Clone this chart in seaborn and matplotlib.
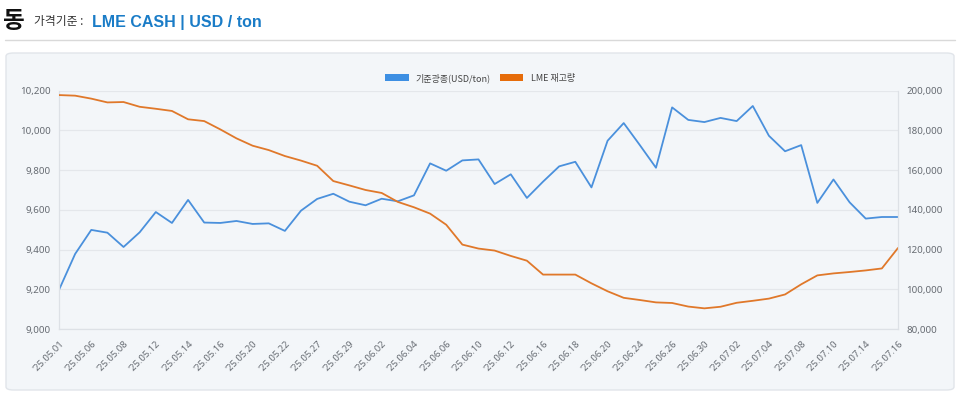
import matplotlib
matplotlib.use("Agg")
import matplotlib.pyplot as plt
from matplotlib.patches import FancyBboxPatch, Patch
from matplotlib.lines import Line2D
import matplotlib.ticker as mticker
import seaborn as sns
import pandas as pd

# trading days shown on the chart ('25.MM.DD)
dates = [
    "05.01", "05.02", "05.06", "05.07", "05.08", "05.09", "05.12", "05.13", "05.14", "05.15",
    "05.16", "05.19", "05.20", "05.21", "05.22", "05.23", "05.27", "05.28", "05.29", "05.30",
    "06.02", "06.03", "06.04", "06.05", "06.06", "06.09", "06.10", "06.11", "06.12", "06.13",
    "06.16", "06.17", "06.18", "06.19", "06.20", "06.23", "06.24", "06.25", "06.26", "06.27",
    "06.30", "07.01", "07.02", "07.03", "07.04", "07.07", "07.08", "07.09", "07.10", "07.11",
    "07.14", "07.15", "07.16",
]

# copper cash price (USD/ton), left axis
price = [
    9197, 9378, 9499, 9485, 9413, 9487, 9589, 9534, 9650, 9536,
    9534, 9544, 9529, 9532, 9494, 9596, 9655, 9681, 9641, 9623,
    9656, 9643, 9673, 9834, 9797, 9849, 9854, 9730, 9779, 9660,
    9742, 9819, 9842, 9713, 9948, 10037, 9926, 9812, 10116, 10053,
    10042, 10063, 10047, 10123, 9973, 9895, 9926, 9635, 9753, 9638,
    9556, 9564, 9564,
]

# LME stock (ton), right axis
stock = [
    197800, 197500, 196000, 194100, 194300, 191900, 190900, 189800, 185600, 184700,
    180500, 176000, 172300, 170100, 167100, 164800, 162200, 154500, 152300, 150000,
    148500, 144000, 141300, 138100, 132500, 122500, 120500, 119500, 116800, 114400,
    107400, 107400, 107400, 103000, 99000, 95700, 94600, 93400, 93100, 91300,
    90400, 91200, 93200, 94200, 95300, 97400, 102500, 107000, 108000, 108700,
    109500, 110500, 120800,
]

series_names = ["기준광종(USD/ton)", "LME 재고량"]

BLUE = "#4a90dc"
ORANGE = "#e0782a"
GRID = "#e4e7eb"
TICK = "#666b72"
FONTS = ["Noto Sans CJK KR", "DejaVu Sans"]
TICK_FONTS = ["Noto Sans", "DejaVu Sans"]

sns.set_theme(style="white")
plt.rcParams["font.family"] = FONTS

df = pd.DataFrame({"pos": range(len(dates)), "price": price, "stock": stock})

W, H = 960, 393
fig = plt.figure(figsize=(W / 100, H / 100), dpi=100, facecolor="white")

def fx(x):
    return x / W

def fy(y):
    return 1 - y / H

# header
fig.text(fx(3), fy(21), "동", fontsize=17, fontweight="bold", color="#111111", va="center")
fig.text(fx(34), fy(22), "가격기준 :", fontsize=8.5, color="#333333", va="center")
fig.text(fx(92), fy(22), "LME CASH | USD / ton", fontsize=11.5, fontweight="bold",
         color="#1a7cc7", va="center", family=["Liberation Sans", "DejaVu Sans"])
fig.add_artist(Line2D([fx(5), fx(955)], [fy(40), fy(40)], color="#d9d9d9", lw=1))

# panel
fig.add_artist(FancyBboxPatch((fx(6), fy(390)), fx(948), (390 - 53) / H,
                              boxstyle="round,pad=0,rounding_size=0.008",
                              facecolor="#f3f6f9", edgecolor="#e1e5ea", lw=1,
                              transform=fig.transFigure, zorder=0))

ax = fig.add_axes([fx(59), fy(329), fx(898 - 59), (329 - 90.7) / H])
ax.set_facecolor("none")
ax2 = ax.twinx()

sns.lineplot(data=df, x="pos", y="price", color=BLUE, lw=1.3, ax=ax, legend=False)
sns.lineplot(data=df, x="pos", y="stock", color=ORANGE, lw=1.3, ax=ax2, legend=False)

ax.set_xlim(0, len(dates) - 1)
ax.set_ylim(9000, 10200)
ax2.set_ylim(80000, 200000)
ax.yaxis.set_major_locator(mticker.MultipleLocator(200))
ax2.yaxis.set_major_locator(mticker.MultipleLocator(20000))
fmt = mticker.FuncFormatter(lambda v, p: f"{int(v):,}")
ax.yaxis.set_major_formatter(fmt)
ax2.yaxis.set_major_formatter(fmt)

ax.grid(axis="y", color=GRID, lw=0.9)
ax.set_axisbelow(True)

ticks = list(range(0, len(dates), 2))
ax.set_xticks(ticks)
ax.set_xticklabels(["'25." + dates[i] for i in ticks], rotation=45, ha="right",
                   rotation_mode="anchor", fontsize=6.8, color=TICK, family=TICK_FONTS)
ax.tick_params(axis="x", length=0, pad=7)
ax.tick_params(axis="y", length=0, labelsize=7, labelcolor=TICK, pad=6)
ax2.tick_params(axis="y", length=0, labelsize=7, labelcolor=TICK, pad=6)
for lab in ax.get_yticklabels() + ax2.get_yticklabels():
    lab.set_family(TICK_FONTS)
ax.set_xlabel("")
ax.set_ylabel("")
ax2.set_ylabel("")

for a in (ax, ax2):
    for s in a.spines.values():
        s.set_visible(False)
ax.spines["left"].set_visible(True)
ax.spines["bottom"].set_visible(True)
ax2.spines["right"].set_visible(True)
for s in (ax.spines["left"], ax.spines["bottom"], ax2.spines["right"]):
    s.set_color("#dde1e6")
    s.set_linewidth(0.9)

handles = [Patch(facecolor="#3d8fe3", edgecolor="none"),
           Patch(facecolor="#e66c0a", edgecolor="none")]
fig.legend(handles, series_names, loc="center", bbox_to_anchor=(0.5, fy(78)), ncol=2,
           frameon=False, fontsize=6.5, handlelength=2.6, handleheight=0.8,
           columnspacing=1.0, handletextpad=0.8, labelcolor="#444444")

fig.savefig("out.png", dpi=100, facecolor="white")
